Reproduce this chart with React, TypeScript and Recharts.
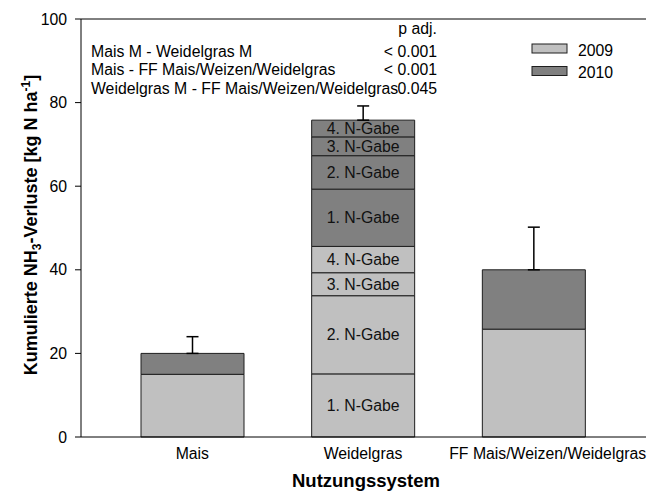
import React from 'react';
import {
  BarChart,
  Bar,
  XAxis,
  YAxis,
  ErrorBar,
  LabelList,
  ReferenceLine,
} from 'recharts';

// categories on the x axis
const categories = ['Mais', 'Weidelgras', 'FF Mais/Weizen/Weidelgras'];

// 2009 / 2010 totals for the systems without split (Weidelgras handled below)
const values2009 = [15.0, 0, 25.8];
const values2010 = [5.0, 0, 14.2];

// Weidelgras split by N-Gabe
const gabeLabels = ['1. N-Gabe', '2. N-Gabe', '3. N-Gabe', '4. N-Gabe'];
const weidelgras2009 = [15.1, 18.7, 5.5, 6.3];
const weidelgras2010 = [13.7, 8.0, 4.5, 4.0];

// upper error (sd) on top of each stack
const errorUp = [4.0, 3.4, 10.2];

const yTicks = [0, 20, 40, 60, 80, 100];

// pairwise comparisons
const comparisons = [
  'Mais M - Weidelgras M',
  'Mais - FF Mais/Weizen/Weidelgras',
  'Weidelgras M - FF Mais/Weizen/Weidelgras',
];
const pAdj = ['< 0.001', '< 0.001', '0.045'];

const years = ['2009', '2010'];

const COLOR_2009 = '#c0c0c0';
const COLOR_2010 = '#808080';
const EDGE = '#1e1e1e';
const FONT = '"Liberation Sans", Arial, sans-serif';
const FS = 15.8;

const data = categories.map((name, i) => {
  const isW = name === 'Weidelgras';
  const row: Record<string, any> = {
    name,
    y2009: isW ? 0 : values2009[i],
    y2010: isW ? 0 : values2010[i],
    errA: isW ? null : [0, errorUp[i]],
    errW: isW ? [0, errorUp[i]] : null,
  };
  weidelgras2009.forEach((v, k) => {
    row[`w09_${k}`] = isW ? v : 0;
  });
  weidelgras2010.forEach((v, k) => {
    row[`w10_${k}`] = isW ? v : 0;
  });
  return row;
});

const xLabelShift = [0, 0, 14];

const XTick = (props: any) => {
  const { x, y, payload, index } = props;
  return (
    <text
      x={x + (xLabelShift[index] || 0)}
      y={y + 21.5}
      textAnchor="middle"
      fontSize={FS}
      fontFamily={FONT}
      fill="#000"
    >
      {payload.value}
    </text>
  );
};

const segmentLabel = (text: string) => (props: any) => {
  const vb = props.viewBox || props;
  const { x, y, width, height } = vb;
  if (height == null || Math.abs(height) < 2) return null;
  return (
    <text
      x={x + width / 2}
      y={y + height / 2}
      dy="0.36em"
      textAnchor="middle"
      fontSize={FS}
      fontFamily={FONT}
      fill="#111"
    >
      {text}
    </text>
  );
};

const Overlay = () => (
  <svg
    width={658}
    height={492}
    style={{ position: 'absolute', left: 0, top: 0, pointerEvents: 'none' }}
    fontFamily={FONT}
  >
    {/* comparison table */}
    <text x={437} y={34} textAnchor="end" fontSize={FS}>
      p adj.
    </text>
    {comparisons.map((c, i) => (
      <g key={c}>
        <text x={91} y={57 + i * 18.4} fontSize={FS}>
          {c}
        </text>
        <text x={437} y={57 + i * 18.4} textAnchor="end" fontSize={FS}>
          {pAdj[i]}
        </text>
      </g>
    ))}

    {/* legend */}
    {years.map((yr, i) => (
      <g key={yr}>
        <rect
          x={532}
          y={44 + i * 22.5}
          width={35}
          height={9}
          fill={i === 0 ? COLOR_2009 : COLOR_2010}
          stroke={EDGE}
          strokeWidth={1}
        />
        <text x={578} y={55.5 + i * 22} fontSize={FS}>
          {yr}
        </text>
      </g>
    ))}

    {/* axis titles */}
    <text
      x={37}
      y={225}
      transform="rotate(-90, 37, 225)"
      textAnchor="middle"
      fontSize={18}
      fontWeight="bold"
    >
      Kumulierte NH
      <tspan dy={4} fontSize={12}>
        3
      </tspan>
      <tspan dy={-4}>-Verluste [kg N ha</tspan>
      <tspan dy={-7} fontSize={12}>
        -1
      </tspan>
      <tspan dy={7}>]</tspan>
    </text>
    <text x={366} y={487} textAnchor="middle" fontSize={18.5} fontWeight="bold">
      Nutzungssystem
    </text>
  </svg>
);

export default function App() {
  return (
    <div style={{ position: 'relative', width: 658, height: 492, background: '#fff' }}>
      <style>{'body{margin:0}'}</style>
      <BarChart
        width={658}
        height={492}
        data={data}
        margin={{ top: 19, right: 12, left: 0, bottom: 0 }}
        barSize={103}
      >
        <XAxis
          dataKey="name"
          height={55}
          padding={{ left: 26, right: 27 }}
          tickLine={false}
          tickSize={0}
          tickMargin={0}
          axisLine={{ stroke: '#000', strokeWidth: 1 }}
          tick={<XTick />}
          interval={0}
        />
        <YAxis
          width={81}
          domain={[0, 100]}
          ticks={yTicks}
          tickSize={6}
          tickMargin={8}
          axisLine={{ stroke: '#000', strokeWidth: 1 }}
          tickLine={{ stroke: '#000' }}
          tick={{ fill: '#000', fontSize: FS, fontFamily: FONT }}
        />
        <YAxis
          yAxisId="right"
          orientation="right"
          width={0}
          domain={[0, 100]}
          tick={false}
          tickLine={false}
          axisLine={{ stroke: '#000', strokeWidth: 1 }}
        />
        <ReferenceLine y={100} stroke="#000" strokeWidth={1} />

        <Bar dataKey="y2009" stackId="s" fill={COLOR_2009} stroke={EDGE} strokeWidth={1} isAnimationActive={false} />
        {weidelgras2009.map((_, k) => (
          <Bar
            key={`w09_${k}`}
            dataKey={`w09_${k}`}
            stackId="s"
            fill={COLOR_2009}
            stroke={EDGE}
            strokeWidth={1}
            isAnimationActive={false}
          >
            <LabelList content={segmentLabel(gabeLabels[k])} />
          </Bar>
        ))}
        <Bar dataKey="y2010" stackId="s" fill={COLOR_2010} stroke={EDGE} strokeWidth={1} isAnimationActive={false}>
          <ErrorBar dataKey="errA" width={6} stroke="#000" strokeWidth={1.5} direction="y" />
        </Bar>
        {weidelgras2010.map((_, k) => (
          <Bar
            key={`w10_${k}`}
            dataKey={`w10_${k}`}
            stackId="s"
            fill={COLOR_2010}
            stroke={EDGE}
            strokeWidth={1}
            isAnimationActive={false}
          >
            <LabelList content={segmentLabel(gabeLabels[k])} />
            {k === weidelgras2010.length - 1 && (
              <ErrorBar dataKey="errW" width={6} stroke="#000" strokeWidth={1.5} direction="y" />
            )}
          </Bar>
        ))}
      </BarChart>
      <Overlay />
    </div>
  );
}
